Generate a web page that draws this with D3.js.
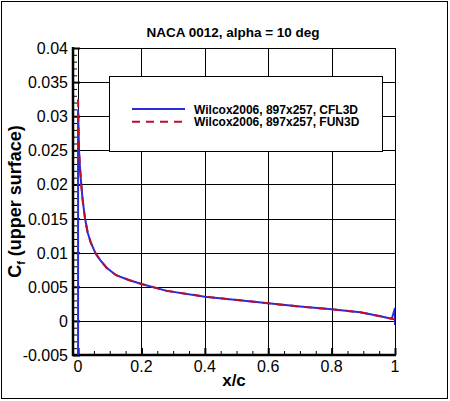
<!DOCTYPE html>
<html>
<head>
<meta charset="utf-8">
<script src="https://cdn.jsdelivr.net/npm/d3@7"></script>
<style>
  body { margin: 0; background: #fff; }
  svg { display: block; font-family: Arial, "Liberation Sans", Helvetica, sans-serif; }
</style>
</head>
<body>
<div class="graph"></div>
<script>
// skin friction on the upper surface
var cfl3dX  = [0, 0, 0.001, 0.003, 0.006, 0.01, 0.015, 0.022, 0.03, 0.04, 0.055, 0.07, 0.09, 0.12, 0.16, 0.2, 0.28, 0.4, 0.54, 0.6, 0.7, 0.8, 0.89, 0.95, 0.99, 1.0, 1.0];
var cfl3dCf = [-0.008, 0.031, 0.029, 0.025, 0.0225, 0.02, 0.0175, 0.015, 0.013, 0.0115, 0.0099, 0.0089, 0.0078, 0.0067, 0.006, 0.0054, 0.0044, 0.00355, 0.00287, 0.00258, 0.0021, 0.0017, 0.00126, 0.00072, 0.0003, 0.0019, -0.0006];

var fun3dX  = [0, 0.001, 0.003, 0.006, 0.01, 0.015, 0.022, 0.03, 0.04, 0.055, 0.07, 0.09, 0.12, 0.16, 0.2, 0.28, 0.4, 0.54, 0.6, 0.7, 0.8, 0.89, 0.95, 0.99, 1.0];
var fun3dCf = [0.0325, 0.029, 0.025, 0.0225, 0.02, 0.0175, 0.015, 0.013, 0.0115, 0.0099, 0.0089, 0.0078, 0.0067, 0.006, 0.0054, 0.0044, 0.00355, 0.00287, 0.00258, 0.0021, 0.0017, 0.00126, 0.00072, 0.0003, 0.0002];

var xTicks = [0, 0.2, 0.4, 0.6, 0.8, 1];
var yTicks = [-0.005, 0, 0.005, 0.01, 0.015, 0.02, 0.025, 0.03, 0.035, 0.04];
var seriesNames = ['Wilcox2006, 897x257, CFL3D', 'Wilcox2006, 897x257, FUN3D'];

var width = 450,
    height = 401;

// plot box in pixels
var pl = 73, pr = 395, pt = 48, pb = 355;

var x = d3.scaleLinear()
    .domain([-0.016, 1])
    .range([pl, pr]);

var y = d3.scaleLinear()
    .domain([-0.005, 0.04])
    .range([pb, pt]);

var svg = d3.select('.graph').append('svg')
    .attr('width', width)
    .attr('height', height);

// outer frame
svg.append('rect')
    .attr('x', 1.5).attr('y', 1.5)
    .attr('width', width - 4).attr('height', height - 4)
    .attr('fill', 'none')
    .attr('stroke', '#000');

svg.append('defs').append('clipPath').attr('id', 'plot')
    .append('rect')
    .attr('x', pl).attr('y', pt)
    .attr('width', pr - pl).attr('height', pb - pt);

// grid
var grid = svg.append('g').attr('stroke', '#000').attr('stroke-width', 1);
grid.selectAll('.gx').data(xTicks).enter().append('line')
    .attr('x1', function (d) { return Math.round(x(d)) + 0.5; })
    .attr('x2', function (d) { return Math.round(x(d)) + 0.5; })
    .attr('y1', pt).attr('y2', pb);
grid.selectAll('.gy').data(yTicks).enter().append('line')
    .attr('y1', function (d) { return Math.round(y(d)) + 0.5; })
    .attr('y2', function (d) { return Math.round(y(d)) + 0.5; })
    .attr('x1', pl).attr('x2', pr);

// axes, ticks inside the plot
var yAxis = svg.append('g')
    .attr('transform', 'translate(' + pl + ',0)')
    .call(d3.axisRight(y).tickValues(d3.range(-0.005, 0.04001, 0.001)).tickSize(4).tickFormat(''));
yAxis.select('.domain').remove();
yAxis.selectAll('.tick').filter(function (d) { return yTicks.some(function (t) { return Math.abs(t - d) < 1e-6; }); })
    .select('line').attr('x2', 7).attr('stroke-width', 2);

var xAxis = svg.append('g')
    .attr('transform', 'translate(0,' + pb + ')')
    .call(d3.axisTop(x).tickValues(d3.range(0, 1.0001, 0.05)).tickSize(4).tickFormat(''));
xAxis.select('.domain').remove();
xAxis.selectAll('.tick').filter(function (d) { return xTicks.some(function (t) { return Math.abs(t - d) < 1e-6; }); })
    .select('line').attr('y2', -7).attr('stroke-width', 2);

svg.append('line')
    .attr('x1', pl).attr('x2', pl).attr('y1', pt - 1).attr('y2', pb + 1)
    .attr('stroke', '#000').attr('stroke-width', 2.5);
svg.append('line')
    .attr('x1', pl - 1).attr('x2', pr + 1).attr('y1', pb).attr('y2', pb)
    .attr('stroke', '#000').attr('stroke-width', 2.5);

// tick labels
svg.append('g').selectAll('text').data(yTicks).enter().append('text')
    .attr('x', 68)
    .attr('y', function (d) { return y(d) + 6; })
    .attr('text-anchor', 'end')
    .attr('font-size', 16)
    .text(function (d) { return d === 0 ? '0' : String(+d.toFixed(3)); });

svg.append('g').selectAll('text').data(xTicks).enter().append('text')
    .attr('x', function (d) { return x(d); })
    .attr('y', 372)
    .attr('text-anchor', 'middle')
    .attr('font-size', 16)
    .text(function (d) { return String(d); });

// titles
svg.append('text')
    .attr('x', 233).attr('y', 37)
    .attr('text-anchor', 'middle')
    .attr('font-size', 13.5).attr('font-weight', 'bold')
    .text('NACA 0012, alpha = 10 deg');

svg.append('text')
    .attr('x', 234).attr('y', 386)
    .attr('text-anchor', 'middle')
    .attr('font-size', 17).attr('font-weight', 'bold')
    .text('x/c');

var yt = svg.append('text')
    .attr('transform', 'translate(21,' + (pt + pb) / 2 + ') rotate(-90)')
    .attr('text-anchor', 'middle')
    .attr('font-size', 18).attr('font-weight', 'bold');
yt.append('tspan').text('C');
yt.append('tspan').attr('font-size', 11).attr('dy', 4).text('f');
yt.append('tspan').attr('dy', -4).text(' (upper surface)');

// data lines
var line = d3.line()
    .x(function (d) { return x(d[0]); })
    .y(function (d) { return y(d[1]); });

var lines = svg.append('g').attr('clip-path', 'url(#plot)');
lines.append('path')
    .datum(d3.zip(cfl3dX, cfl3dCf))
    .attr('d', line)
    .attr('fill', 'none')
    .attr('stroke', '#2a2ae0')
    .attr('stroke-width', 2);
lines.append('path')
    .datum(d3.zip(fun3dX, fun3dCf))
    .attr('d', line)
    .attr('fill', 'none')
    .attr('stroke', '#b8102a')
    .attr('stroke-width', 2)
    .attr('stroke-dasharray', '8,6');

// legend
var legend = svg.append('g');
legend.append('rect')
    .attr('x', 109.5).attr('y', 76.5)
    .attr('width', 273).attr('height', 75)
    .attr('fill', '#fff').attr('stroke', '#000');

var legendStyles = [{ color: '#2a2ae0', dash: null }, { color: '#b8102a', dash: '8,6' }];
seriesNames.forEach(function (name, i) {
    var ly = 109 + i * 12.7;
    legend.append('line')
        .attr('x1', 132).attr('x2', 185)
        .attr('y1', ly).attr('y2', ly)
        .attr('stroke', legendStyles[i].color)
        .attr('stroke-width', 2)
        .attr('stroke-dasharray', legendStyles[i].dash);
    legend.append('text')
        .attr('x', 194).attr('y', ly + 4.5)
        .attr('font-size', 12).attr('font-weight', 'bold')
        .text(name);
});
</script>
</body>
</html>
